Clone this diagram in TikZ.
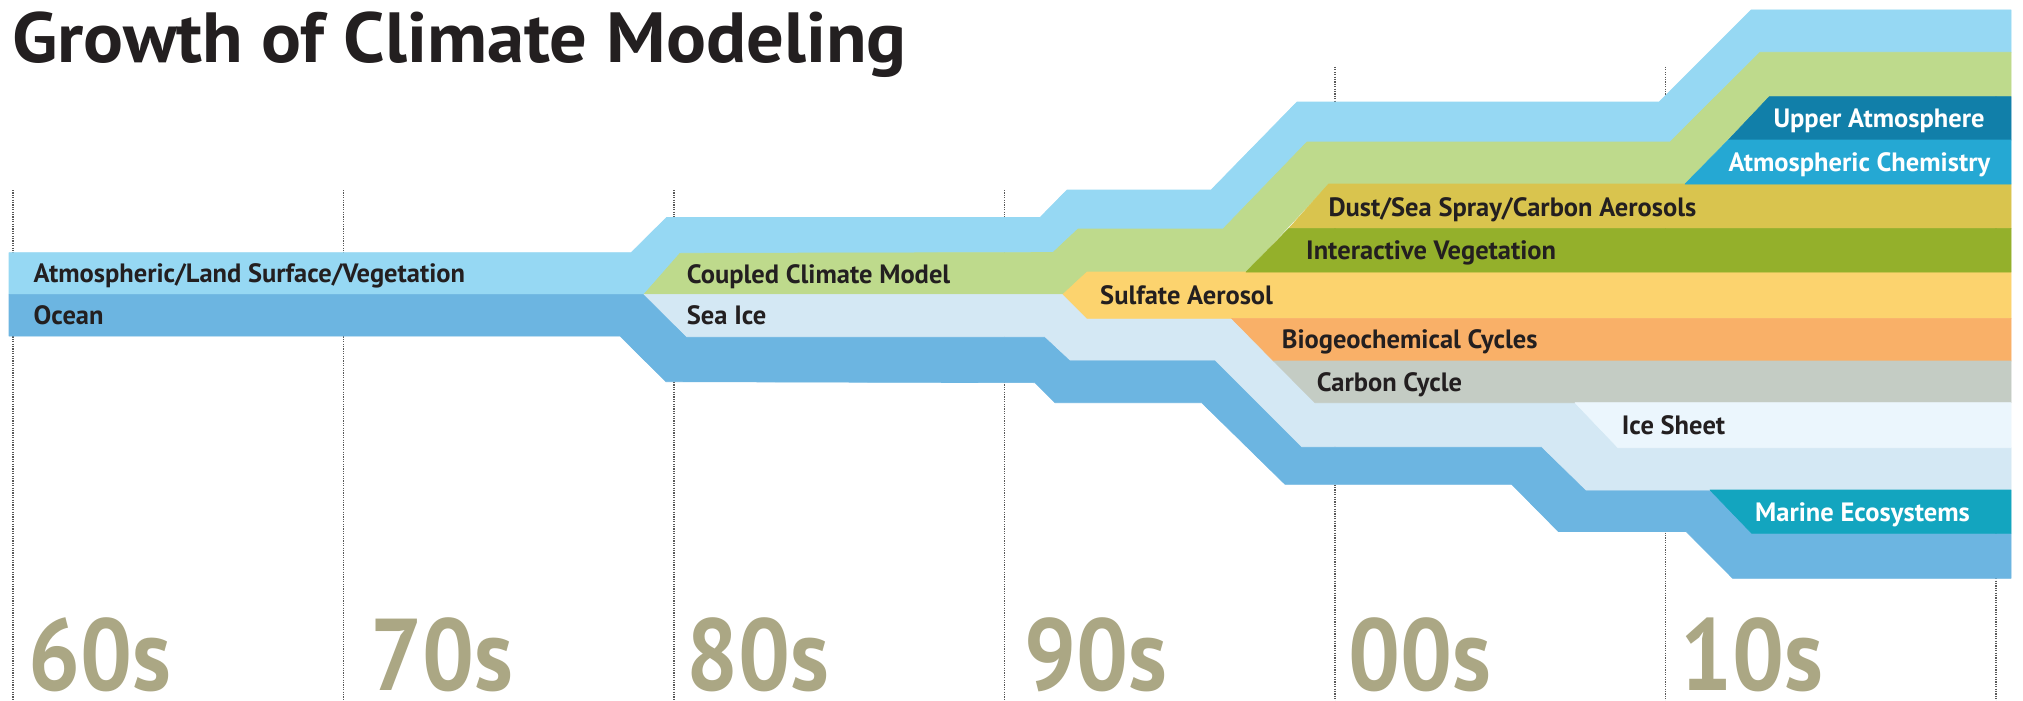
\documentclass[tikz,border=0pt]{standalone}
\usepackage{fontspec}
\setmainfont{PT Sans}
\newfontfamily\lblfont[FakeStretch=1.0]{PT Sans}
\newfontfamily\titlefont[FakeStretch=1.05]{PT Sans}
\newfontfamily\decfont[FakeStretch=0.9]{PT Sans}
\definecolor{cAtm}{RGB}{150,216,243}
\definecolor{cOcean}{RGB}{108,181,225}
\definecolor{cCoupled}{RGB}{190,218,140}
\definecolor{cSeaIce}{RGB}{212,232,244}
\definecolor{cSulfate}{RGB}{252,211,110}
\definecolor{cDust}{RGB}{217,196,78}
\definecolor{cVeg}{RGB}{148,176,43}
\definecolor{cBio}{RGB}{249,176,104}
\definecolor{cCarbon}{RGB}{196,204,196}
\definecolor{cIceSheet}{RGB}{235,246,253}
\definecolor{cUpper}{RGB}{17,127,169}
\definecolor{cChem}{RGB}{37,168,211}
\definecolor{cMarine}{RGB}{19,165,191}
\definecolor{decadecol}{RGB}{171,167,132}
\definecolor{txtdark}{RGB}{35,31,32}
\tikzset{
  band/.style={fill=#1, draw=#1, line width=0.6pt, line join=round},
  gridline/.style={draw=black!65, line width=1.1pt, dash pattern=on 1.1pt off 1.3pt},
  lbl/.style={anchor=base west, inner sep=0pt, font=\lblfont\bfseries\fontsize{26.5}{26.5}\selectfont, text=txtdark},
  lblw/.style={lbl, text=white},
  decade/.style={anchor=base west, inner sep=0pt, font=\decfont\bfseries\fontsize{102}{102}\selectfont, text=decadecol},
  titlestyle/.style={anchor=base west, inner sep=0pt, font=\titlefont\bfseries\fontsize{71}{71}\selectfont, text=txtdark}
}
\begin{document}
\begin{tikzpicture}[x=1pt,y=-1pt]
\useasboundingbox[fill=white] (0,0) rectangle (2023,701);
% decade grid lines
\foreach \gx/\gy in {13/190,343.5/190,674/190,1004.5/190,1335/67,1665.5/67,1996/67}
  \draw[gridline] (\gx,\gy) -- (\gx,701);
% bands
\fill[band=cAtm] (9,252.7) -- (631,252.7) -- (666.5,217.5) -- (1040,217.5) -- (1067,190) -- (1211,190) -- (1297,102) -- (1659,102) -- (1751,10) -- (2011,10) -- (2011,52.3) -- (1760,52.3) -- (1670,142) -- (1307,142) -- (1223,229) -- (1078,229) -- (1053,252.5) -- (680,253.3) -- (644,294.3) -- (9,294.3) -- cycle;
\fill[band=cOcean] (9,294.3) -- (644,294.3) -- (686.7,336.7) -- (1045,336.7) -- (1070,360) -- (1215,360) -- (1301.7,446.7) -- (1541.7,446.7) -- (1586,490) -- (1710,490) -- (1751.7,533.3) -- (2011,533.3) -- (2011,578.3) -- (1732.7,578.3) -- (1686,531.5) -- (1558.3,531.5) -- (1511.7,484.3) -- (1285,484.3) -- (1201.7,402.7) -- (1055,402.7) -- (1035,382.7) -- (666,381.7) -- (620,336) -- (9,336) -- cycle;
\fill[band=cCoupled] (644,294.3) -- (680,253.3) -- (1053,252.5) -- (1078,229) -- (1223,229) -- (1307,142) -- (1670,142) -- (1760,52.3) -- (2011,52.3) -- (2011,96.7) -- (1769.3,96.7) -- (1685,184) -- (1328.6,184) -- (1246,272) -- (1087,272) -- (1063,294.3) -- cycle;
\fill[band=cSeaIce] (644,294.3) -- (1063,294.3) -- (1087,318.3) -- (1231.5,318.3) -- (1315,402.7) -- (1575,402.7) -- (1618,447.7) -- (2011,447.7) -- (2011,490) -- (1586,490) -- (1541.7,446.7) -- (1301.7,446.7) -- (1215,360) -- (1070,360) -- (1045,336.7) -- (686.7,336.7) -- cycle;
\fill[band=cSulfate] (1063,294.3) -- (1087,272) -- (2011,272) -- (2011,318.3) -- (1087,318.3) -- cycle;
\fill[band=cDust] (1328.6,184) -- (2011,184) -- (2011,228.3) -- (1289,228.3) -- cycle;
\fill[band=cVeg] (1289,228.3) -- (2011,228.3) -- (2011,272) -- (1246,272) -- cycle;
\fill[band=cBio] (1231.5,318.3) -- (2011,318.3) -- (2011,361) -- (1273.5,361) -- cycle;
\fill[band=cCarbon] (1273.5,361) -- (2011,361) -- (2011,402.7) -- (1315,402.7) -- cycle;
\fill[band=cIceSheet] (1575,402.7) -- (2011,402.7) -- (2011,447.7) -- (1618,447.7) -- cycle;
\fill[band=cMarine] (1710,490) -- (2011,490) -- (2011,533.3) -- (1751.7,533.3) -- cycle;
\fill[band=cUpper] (1769.3,96.7) -- (2011,96.7) -- (2011,140) -- (1728.3,140) -- cycle;
\fill[band=cChem] (1728.3,140) -- (2011,140) -- (2011,184) -- (1685,184) -- cycle;
% title
\node[titlestyle] (title) at (12,63) {Growth of Climate Modeling};
% band labels
\node[lbl] (tAtm) at (33.5,282.8) {Atmospheric/Land Surface/Vegetation};
\node[lbl] (tOcean) at (33.5,324.5) {Ocean};
\node[lbl] (tCoupled) at (686.7,283.1) {Coupled Climate Model};
\node[lbl] (tSeaIce) at (686.7,324.8) {Sea Ice};
\node[lbl] (tSulfate) at (1100,304.5) {Sulfate Aerosol};
\node[lbl] (tDust) at (1328.3,216) {Dust/Sea Spray/Carbon Aerosols};
\node[lbl] (tVeg) at (1306,259.5) {Interactive Vegetation};
\node[lbl] (tBio) at (1281.7,348.9) {Biogeochemical Cycles};
\node[lbl] (tCarbon) at (1316.7,391.1) {Carbon Cycle};
\node[lbl] (tIceSheet) at (1621.7,434.5) {Ice Sheet};
\node[lblw] (tUpper) at (1773.3,127.6) {Upper Atmosphere};
\node[lblw] (tChem) at (1728.3,171) {Atmospheric Chemistry};
\node[lblw] (tMarine) at (1755,521) {Marine Ecosystems};
% decades
\node[decade] (d60) at (28,690) {60s};
\node[decade] (d70) at (370,690) {70s};
\node[decade] (d80) at (686,690) {80s};
\node[decade] (d90) at (1024,690) {90s};
\node[decade] (d00) at (1348,690) {00s};
\node[decade] (d10) at (1680,690) {10s};
\end{tikzpicture}
\end{document}
